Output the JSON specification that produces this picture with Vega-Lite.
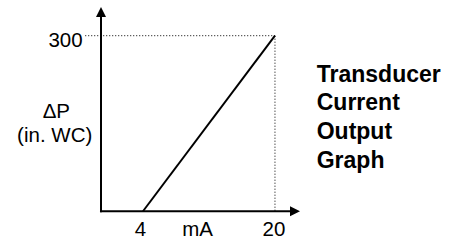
{
  "$schema": "https://vega.github.io/schema/vega-lite/v6.json",
  "width": 455,
  "height": 241,
  "autosize": {"type": "fit", "contains": "padding"},
  "padding": 0,
  "background": "white",
  "config": {"view": {"stroke": null}},
  "datasets": {
    "axes": [
      {"x": -1.09, "y": 0, "x2": -1.09, "y2": 334},
      {"x": -1.09, "y": 0, "x2": 21.9, "y2": 0}
    ],
    "arrows": [
      {"x": -1.09, "y": 340.3, "dir": "up"},
      {"x": 22.43, "y": 0, "dir": "right"}
    ],
    "guides": [
      {"x": -3.0, "y": 300, "x2": 20, "y2": 300},
      {"x": 20, "y": 300, "x2": 20, "y2": 0}
    ],
    "series": [
      {"mA": 4, "dp": 0},
      {"mA": 20, "dp": 300}
    ],
    "ylabel": [
      {"x": -3.31, "y": 281.4, "text": "300"}
    ],
    "labels": [
      {"x": 3.7, "y": -42.4, "text": "4"},
      {"x": 10.61, "y": -42.4, "text": "mA"},
      {"x": 19.88, "y": -42.4, "text": "20"},
      {"x": -6.5, "y": 158.5, "text": "ΔP"},
      {"x": -6.7, "y": 118.6, "text": "(in. WC)"}
    ],
    "title": [
      {"x": 25.06, "y": 220.3, "text": "Transducer"},
      {"x": 25.06, "y": 172.9, "text": "Current"},
      {"x": 25.06, "y": 123.7, "text": "Output"},
      {"x": 25.06, "y": 74.6, "text": "Graph"}
    ]
  },
  "layer": [
    {
      "data": {"name": "guides"},
      "mark": {"type": "rule", "color": "black", "strokeWidth": 1, "strokeDash": [1, 2]},
      "encoding": {
        "x": {"field": "x", "type": "quantitative", "scale": {"domain": [-13.33, 41.82], "nice": false, "zero": false}, "axis": null},
        "y": {"field": "y", "type": "quantitative", "scale": {"domain": [-47.46, 361.0], "nice": false, "zero": false}, "axis": null},
        "x2": {"field": "x2"},
        "y2": {"field": "y2"}
      }
    },
    {
      "data": {"name": "axes"},
      "mark": {"type": "rule", "color": "black", "strokeWidth": 2, "strokeCap": "square"},
      "encoding": {
        "x": {"field": "x", "type": "quantitative", "axis": null},
        "y": {"field": "y", "type": "quantitative", "axis": null},
        "x2": {"field": "x2"},
        "y2": {"field": "y2"}
      }
    },
    {
      "data": {"name": "arrows"},
      "mark": {"type": "point", "filled": true, "color": "black", "opacity": 1, "size": 100},
      "encoding": {
        "x": {"field": "x", "type": "quantitative", "axis": null},
        "y": {"field": "y", "type": "quantitative", "axis": null},
        "shape": {"field": "dir", "type": "nominal", "legend": null,
          "scale": {"domain": ["up", "right"], "range": ["M0,-1L1,1L-1,1Z", "M1,0L-1,1L-1,-1Z"]}}
      }
    },
    {
      "data": {"name": "series"},
      "mark": {"type": "line", "color": "black", "strokeWidth": 2},
      "encoding": {
        "x": {"field": "mA", "type": "quantitative", "axis": null},
        "y": {"field": "dp", "type": "quantitative", "axis": null}
      }
    },
    {
      "data": {"name": "ylabel"},
      "mark": {"type": "text", "font": "Liberation Sans", "fontSize": 20.5, "color": "black", "align": "right", "baseline": "alphabetic"},
      "encoding": {
        "x": {"field": "x", "type": "quantitative", "axis": null},
        "y": {"field": "y", "type": "quantitative", "axis": null},
        "text": {"field": "text"}
      }
    },
    {
      "data": {"name": "labels"},
      "mark": {"type": "text", "font": "Liberation Sans", "fontSize": 20.5, "color": "black", "align": "center", "baseline": "alphabetic"},
      "encoding": {
        "x": {"field": "x", "type": "quantitative", "axis": null},
        "y": {"field": "y", "type": "quantitative", "axis": null},
        "text": {"field": "text"}
      }
    },
    {
      "data": {"name": "title"},
      "mark": {"type": "text", "font": "Liberation Sans", "fontSize": 23, "fontWeight": "bold", "color": "black", "align": "left", "baseline": "alphabetic"},
      "encoding": {
        "x": {"field": "x", "type": "quantitative", "axis": null},
        "y": {"field": "y", "type": "quantitative", "axis": null},
        "text": {"field": "text"}
      }
    }
  ]
}
